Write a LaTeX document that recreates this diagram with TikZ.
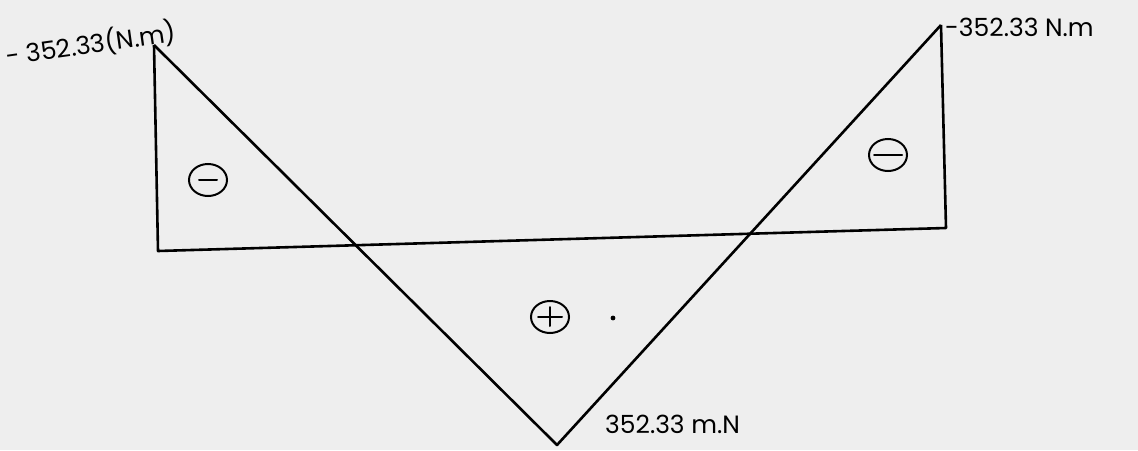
\documentclass[tikz,border=0pt]{standalone}
\usepackage{fontspec}
\setmainfont{Poppins}
\usetikzlibrary{shapes.geometric}
\definecolor{paper}{HTML}{EEEEEE}
\begin{document}
\begin{tikzpicture}[x=1pt,y=-1pt,
  diag/.style={line width=2.6pt, black, line join=round},
  sign/.style={draw, line width=2pt, ellipse, minimum width=38pt, minimum height=32pt, inner sep=0pt},
  bar/.style={line width=2pt, line cap=round},
  lbl/.style={font=\fontsize{25}{28}\selectfont, inner sep=0pt}]
\fill[paper] (0,0) rectangle (1138,450);
\useasboundingbox (0,0) rectangle (1138,450);
% vertices
\coordinate (lt) at (154,45);
\coordinate (lb) at (158,251);
\coordinate (rb) at (946,228);
\coordinate (rt) at (941,25);
\coordinate (v) at (557,445);
% frame
\draw[diag] (lt) -- (lb) -- (rb) -- (rt);
% V lines
\draw[diag] (lt) -- (v) -- (rt);
% sign circles
\node[sign] (m1) at (208,180) {};
\draw[bar] ([xshift=-9pt]m1.center) -- ([xshift=9pt]m1.center);
\node[sign] (m2) at (888,155) {};
\draw[bar] ([xshift=-14pt]m2.center) -- ([xshift=14pt]m2.center);
\node[sign] (p) at (550,317) {};
\draw[bar] ([xshift=-12pt]p.center) -- ([xshift=12pt]p.center);
\draw[bar] ([yshift=-9pt]p.center) -- ([yshift=10pt]p.center);
\fill (613,318) circle (2.4pt);
% labels
\node[lbl, rotate=8] (l1) at (91,44) {- 352.33(N.m)};
\node[lbl, anchor=west] (l2) at (945,27) {-352.33 N.m};
\node[lbl, anchor=west] (l3) at (605,424) {352.33 m.N};
\end{tikzpicture}
\end{document}
